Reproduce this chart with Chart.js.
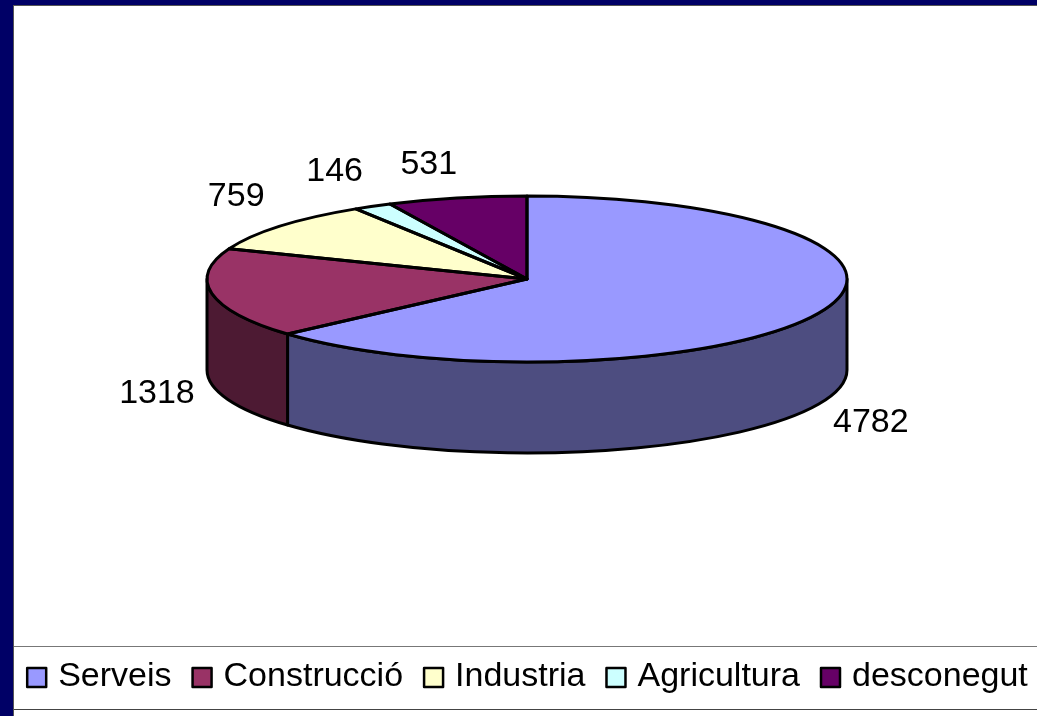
<!DOCTYPE html>
<html>
<head>
<meta charset="utf-8">
<title>Serveis</title>
<script src="https://cdn.jsdelivr.net/npm/chart.js@4/dist/chart.umd.min.js"></script>
<style>
  html, body { margin: 0; padding: 0; width: 1037px; height: 716px; overflow: hidden; background: #000066; }
  #panel { position: absolute; left: 13px; top: 5px; width: 1024px; height: 711px; background: #fff; border-left: 1px solid #555; border-top: 1px solid #555; box-sizing: border-box; }
  .rule { position: absolute; left: 14px; width: 1023px; height: 1px; }
  /* canvas runs past the window so the pie centre lands where the slide has it */
  #chart { position: absolute; left: 0; top: -82px; }
</style>
</head>
<body>
<div id="panel"></div>
<div class="rule" style="top:646px;background:#777"></div>
<div class="rule" style="top:709px;background:#444"></div>
<canvas id="chart" width="1054" height="798"></canvas>
<script>
const categories = ['Serveis', 'Construcció', 'Industria', 'Agricultura', 'desconegut'];
const values = [4782, 1318, 759, 146, 531];
const topColors = ['#9999FF', '#993366', '#FFFFCC', '#CCFFFF', '#660066'];
const sideColors = ['#4D4D80', '#4D1A33', '#80806B', '#6B8080', '#330033'];

// offset of each value label from the rim of its slice
const labelOffsets = [[52, 110], [-55, 100], [-44, -30], [-38, -35], [-28, -33]];

const pieTilt = 83 / 320;
const pieDepth = 91;
const fontFamily = '"Liberation Sans", Arial, sans-serif';

const pie3d = {
  id: 'pie3d',
  beforeDatasetDraw(chart) {
    const ctx = chart.ctx;
    const arcs = chart.getDatasetMeta(0).data;
    ctx.lineWidth = 3;
    ctx.strokeStyle = '#000';
    ctx.lineJoin = 'round';
    // walls first, only the front half of the pie shows them
    arcs.forEach((arc, i) => {
      const a0 = Math.max(arc.startAngle, 0);
      const a1 = Math.min(arc.endAngle, Math.PI);
      if (a0 >= a1) return;
      const r = arc.outerRadius;
      ctx.beginPath();
      ctx.ellipse(arc.x, arc.y, r, r * pieTilt, 0, a0, a1);
      ctx.ellipse(arc.x, arc.y + pieDepth, r, r * pieTilt, 0, a1, a0, true);
      ctx.closePath();
      ctx.fillStyle = sideColors[i];
      ctx.fill();
      ctx.stroke();
    });
    const y = arcs[0].y;
    ctx.save();
    ctx.translate(0, y);
    ctx.scale(1, pieTilt);
    ctx.translate(0, -y);
  },
  afterDatasetDraw(chart) {
    const ctx = chart.ctx;
    ctx.restore();
    // outlines here so the squash does not thin the line
    chart.getDatasetMeta(0).data.forEach(arc => {
      const r = arc.outerRadius;
      ctx.beginPath();
      ctx.moveTo(arc.x, arc.y);
      ctx.ellipse(arc.x, arc.y, r, r * pieTilt, 0, arc.startAngle, arc.endAngle);
      ctx.closePath();
      ctx.lineWidth = 3;
      ctx.strokeStyle = '#000';
      ctx.lineJoin = 'round';
      ctx.stroke();
    });
  },
  afterDatasetsDraw(chart) {
    const ctx = chart.ctx;
    ctx.save();
    ctx.font = '34px ' + fontFamily;
    ctx.fillStyle = '#000';
    ctx.textAlign = 'center';
    ctx.textBaseline = 'middle';
    chart.getDatasetMeta(0).data.forEach((arc, i) => {
      const mid = (arc.startAngle + arc.endAngle) / 2;
      const r = arc.outerRadius;
      const x = arc.x + r * Math.cos(mid) + labelOffsets[i][0];
      const y = arc.y + r * pieTilt * Math.sin(mid) + labelOffsets[i][1];
      ctx.fillText(values[i], x, y);
    });
    ctx.restore();
  },
  afterDraw(chart) {
    // legend swatches are wider than the slot the legend leaves for them
    const ctx = chart.ctx;
    ctx.save();
    ctx.lineWidth = 2.5;
    ctx.strokeStyle = '#000';
    chart.legend.legendHitBoxes.forEach((box, i) => {
      ctx.fillStyle = topColors[i];
      ctx.fillRect(box.left + 1, box.top + 8, 19, 19);
      ctx.strokeRect(box.left + 1, box.top + 8, 19, 19);
    });
    ctx.restore();
  }
};

new Chart(document.getElementById('chart'), {
  type: 'pie',
  data: {
    labels: categories,
    datasets: [{
      data: values,
      backgroundColor: topColors,
      borderWidth: 0
    }]
  },
  options: {
    responsive: false,
    animation: false,
    radius: '88.64%',
    layout: { padding: { bottom: 12 } },
    plugins: {
      tooltip: { enabled: false },
      legend: {
        position: 'bottom',
        labels: {
          boxWidth: 15,
          padding: 20,
          color: '#000',
          font: { family: fontFamily, size: 34 },
          generateLabels(chart) {
            return categories.map((name, i) => ({
              text: name,
              fillStyle: 'transparent',
              strokeStyle: 'transparent',
              lineWidth: 0,
              index: i
            }));
          }
        }
      }
    }
  },
  plugins: [pie3d]
});
</script>
</body>
</html>
